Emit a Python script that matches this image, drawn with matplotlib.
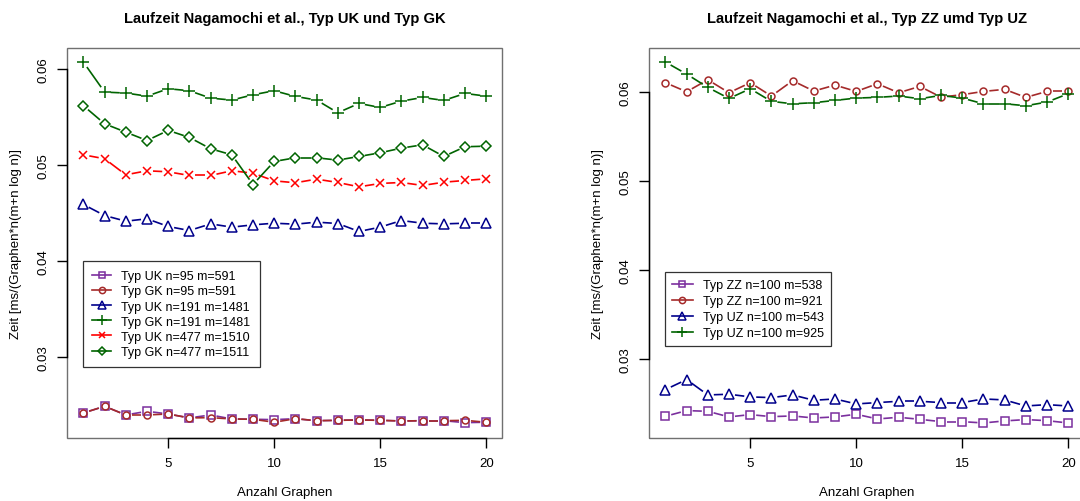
import numpy as np
import matplotlib
matplotlib.use("Agg")
import matplotlib.pyplot as plt
from matplotlib.collections import LineCollection
from matplotlib.lines import Line2D
from matplotlib.patches import Rectangle

plt.rcParams['font.family'] = ['Liberation Sans', 'DejaVu Sans']

graphs = np.arange(1, 21)

# left panel: Typ UK / Typ GK
uk_95 = [0.02417, 0.02486, 0.02396, 0.02434, 0.02406, 0.02365, 0.02396, 0.02354, 0.02351, 0.02347,
         0.02357, 0.02336, 0.02340, 0.02344, 0.02340, 0.02333, 0.02336, 0.02336, 0.02316, 0.02320]
gk_95 = [0.02417, 0.02486, 0.02396, 0.02396, 0.02406, 0.02365, 0.02368, 0.02354, 0.02351, 0.02320,
         0.02357, 0.02336, 0.02340, 0.02344, 0.02340, 0.02333, 0.02336, 0.02336, 0.02340, 0.02320]
uk_191 = [0.04587, 0.04472, 0.04413, 0.04438, 0.04358, 0.04316, 0.04385, 0.04351, 0.04375, 0.04392,
          0.04382, 0.04403, 0.04389, 0.04306, 0.04351, 0.04420, 0.04392, 0.04385, 0.04392, 0.04392]
gk_191 = [0.06069, 0.05757, 0.05747, 0.05715, 0.05792, 0.05771, 0.05694, 0.05674, 0.05729, 0.05771,
          0.05712, 0.05674, 0.05542, 0.05639, 0.05597, 0.05663, 0.05701, 0.05670, 0.05743, 0.05715]
uk_477 = [0.05104, 0.05063, 0.04896, 0.04938, 0.04927, 0.04889, 0.04889, 0.04938, 0.04913, 0.04833,
          0.04813, 0.04851, 0.04816, 0.04771, 0.04806, 0.04816, 0.04785, 0.04819, 0.04837, 0.04854]
gk_477 = [0.05615, 0.05427, 0.05340, 0.05253, 0.05358, 0.05285, 0.05167, 0.05104, 0.04795, 0.05035,
          0.05073, 0.05073, 0.05049, 0.05087, 0.05125, 0.05174, 0.05208, 0.05087, 0.05188, 0.05194]

# right panel: Typ ZZ / Typ UZ
zz_538 = [0.02355, 0.02419, 0.02411, 0.02348, 0.02374, 0.02351, 0.02359, 0.02336, 0.02348, 0.02378,
          0.02325, 0.02344, 0.02321, 0.02295, 0.02295, 0.02280, 0.02303, 0.02318, 0.02306, 0.02280]
zz_921 = [0.06105, 0.06003, 0.06138, 0.05992, 0.06105, 0.05955, 0.06127, 0.06011, 0.06078, 0.06007,
          0.06093, 0.05992, 0.06063, 0.05943, 0.05970, 0.06007, 0.06030, 0.05940, 0.06007, 0.06007]
uz_543 = [0.02655, 0.02768, 0.02595, 0.02603, 0.02573, 0.02565, 0.02595, 0.02535, 0.02550, 0.02494,
          0.02509, 0.02524, 0.02524, 0.02509, 0.02509, 0.02550, 0.02539, 0.02471, 0.02486, 0.02471]
uz_925 = [0.06337, 0.06202, 0.06052, 0.05928, 0.06037, 0.05895, 0.05868, 0.05880, 0.05906, 0.05932,
          0.05940, 0.05955, 0.05925, 0.05962, 0.05932, 0.05868, 0.05868, 0.05846, 0.05887, 0.05981]

left_labels = ["Typ UK n=95 m=591", "Typ GK n=95 m=591", "Typ UK n=191 m=1481",
               "Typ GK n=191 m=1481", "Typ UK n=477 m=1510", "Typ GK n=477 m=1511"]
right_labels = ["Typ ZZ n=100 m=538", "Typ ZZ n=100 m=921", "Typ UZ n=100 m=543", "Typ UZ n=100 m=925"]

purple, brown, blue, green, red = '#7b2f9e', '#a52a2a', '#00008b', '#006400', '#ff0000'
left_styles = [(purple, 's', 5.2), (brown, 'o', 5.0), (blue, '^', 6.8),
               (green, '+', 8.0), (red, 'x', 5.5), (green, 'D', 5.0)]
right_styles = left_styles[:4]

W, H = 1080, 502
fig = plt.figure(figsize=(W / 100, H / 100), dpi=100)


def type_b(ax, x, y, color, marker, ms, gap=6.0):
    # points plus line segments that stop short of the points (R type="b")
    ax.plot(x, y, ls='none', marker=marker, ms=ms, mfc='none', mec=color, mew=1.1, zorder=3)
    pts = ax.transData.transform(np.column_stack([x, y]))
    inv = ax.transData.inverted()
    segs = []
    for p0, p1 in zip(pts[:-1], pts[1:]):
        d = p1 - p0
        L = np.hypot(*d)
        if L > 2 * gap:
            u = d / L
            segs.append(inv.transform(np.array([p0 + u * gap, p1 - u * gap])))
    ax.add_collection(LineCollection(segs, colors=color, linewidths=1.2, zorder=2))


def panel(left_px, ylim, series, styles, labels, title, leg_anchor, leg_opts):
    ax = fig.add_axes([left_px / W, 63 / H, 435 / W, 390 / H])
    ax.set_xlim(0.24, 20.76)
    ax.set_ylim(*ylim)
    for s in ax.spines.values():
        s.set_visible(False)
    ax.add_patch(Rectangle((0, 0), 1, 1, transform=ax.transAxes, fill=False,
                           ec='#707070', lw=1.0, clip_on=False, zorder=1))
    ax.set_xticks([5, 10, 15, 20])
    ax.set_yticks([0.03, 0.04, 0.05, 0.06])
    ax.set_yticklabels(['0.03', '0.04', '0.05', '0.06'], rotation=90, va='center')
    ax.tick_params(direction='out', length=7, width=1, color='black', labelsize=9.5)
    ax.tick_params(axis='x', pad=6.5)
    ax.tick_params(axis='y', pad=6)
    # black axis lines between first and last tick, like R's axis()
    ax.plot([5, 20], [0, 0], color='black', lw=1.0, transform=ax.get_xaxis_transform(), clip_on=False)
    ax.plot([0, 0], [0.03, 0.06], color='black', lw=1.0, transform=ax.get_yaxis_transform(), clip_on=False)

    for vals, (c, m, ms) in zip(series, styles):
        type_b(ax, graphs, vals, c, m, ms)

    handles = [Line2D([], [], color=c, marker=m, ms=ms * 0.9, mfc='none', mew=1.1, lw=1.2)
               for c, m, ms in styles]
    leg = ax.legend(handles, labels, loc='upper left', bbox_to_anchor=leg_anchor, borderaxespad=0,
                    fontsize=9, frameon=True, fancybox=False, edgecolor='black',
                    handletextpad=0.8, **leg_opts)
    leg.get_frame().set_linewidth(0.9)

    cx = (left_px + 435 / 2) / W
    fig.text(cx, 1 - 19 / H, title, ha='center', va='center', fontsize=10.6, fontweight='bold')
    fig.text(cx, 1 - 493 / H, "Anzahl Graphen", ha='center', va='center', fontsize=9.5)
    fig.text((left_px - 51) / W, 1 - 244 / H, "Zeit [ms/(Graphen*n(m+n log n)]",
             ha='center', va='center', rotation=90, fontsize=9.5)
    return ax


panel(67.3, (0.02156, 0.06216), [uk_95, gk_95, uk_191, gk_191, uk_477, gk_477], left_styles,
      left_labels, "Laufzeit Nagamochi et al., Typ UK und Typ GK", (0.036, 0.454),
      dict(borderpad=0.75, labelspacing=0.25, handlelength=1.5))
panel(649.3, (0.02111, 0.06495), [zz_538, zz_921, uz_543, uz_925], right_styles,
      right_labels, "Laufzeit Nagamochi et al., Typ ZZ umd Typ UZ", (0.036, 0.425),
      dict(borderpad=0.55, labelspacing=0.32, handlelength=1.7))

fig.savefig("out.png", dpi=100)
